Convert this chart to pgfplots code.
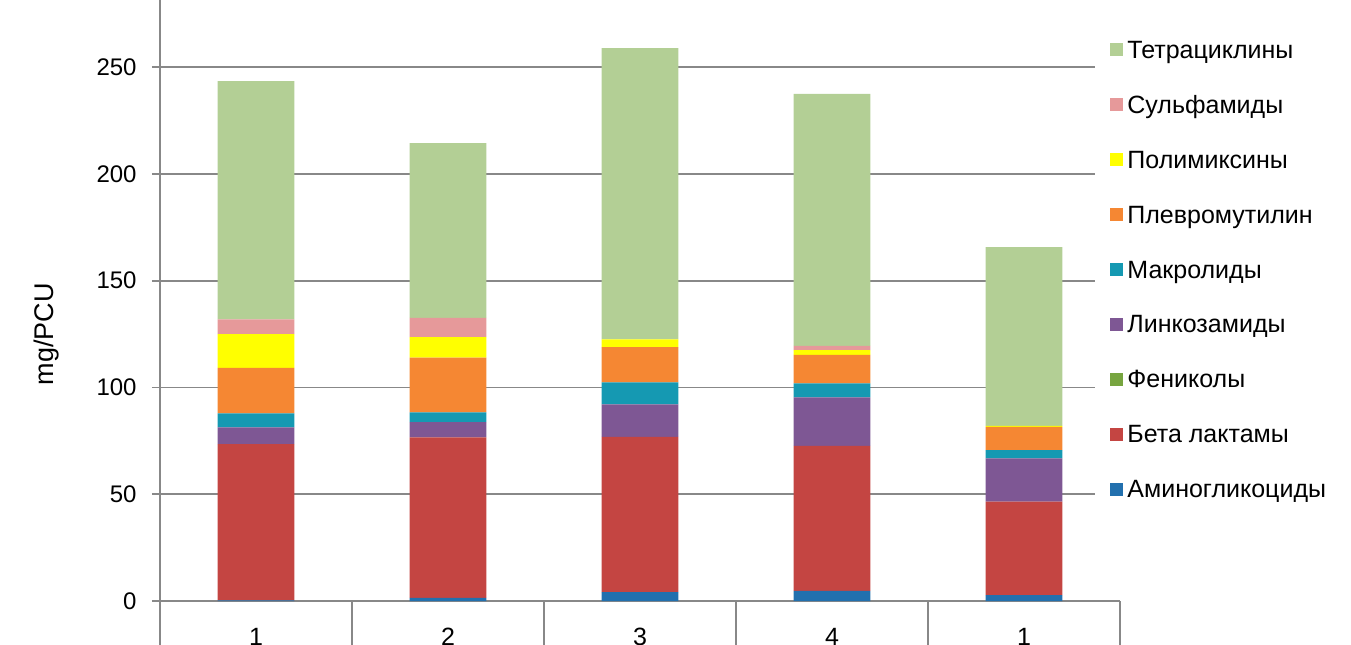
\documentclass[border=0pt]{standalone}
\usepackage{fontspec}
\setmainfont{Liberation Sans}
\usepackage{pgfplots}
\pgfplotsset{compat=1.18}
\definecolor{axgray}{HTML}{888888}
\definecolor{cAmino}{HTML}{2270AE}
\definecolor{cBeta}{HTML}{C44542}
\definecolor{cFen}{HTML}{77A540}
\definecolor{cLin}{HTML}{7E5794}
\definecolor{cMac}{HTML}{1599B2}
\definecolor{cPle}{HTML}{F58733}
\definecolor{cPol}{HTML}{FFFF00}
\definecolor{cSul}{HTML}{E6999A}
\definecolor{cTet}{HTML}{B3CF95}
\begin{document}
\begin{tikzpicture}
\begin{axis}[
  scale only axis, width=480pt, height=300.5pt,
  xmin=0.5, xmax=5.5, ymin=0, ymax=281.4,
  clip=false,
  ybar stacked, bar width=0.4,
  axis x line*=bottom, axis y line*=left,
  axis line style={draw=axgray, line width=1pt},
  ymajorgrids, grid style={draw=axgray, line width=0.9pt},
  ytick={0,50,...,250},
  ytick align=outside, major tick length=4pt,
  ytick style={draw=axgray, line width=0.9pt},
  yticklabel style={font=\fontsize{12}{14}\selectfont, anchor=east, inner sep=0pt, xshift=-7.5pt},
  /pgf/number format/assume math mode=true,
  xtick={1,2,3,4,5}, xticklabels={1,2,3,4,1},
  xtick style={draw=none},
  xticklabel style={font=\fontsize{12.5}{15}\selectfont, anchor=north, inner sep=0pt, yshift=-13.5pt},
  ylabel={mg/PCU},
  every axis y label/.style={at={(axis description cs:-0.1177,0.444)}, rotate=90, anchor=center, font=\fontsize{13.5}{16}\selectfont},
  reverse legend,
  legend cell align=left,
  legend style={at={(0.974,0.9434)}, anchor=north west, draw=none, fill=white,
    inner xsep=7.5pt, inner ysep=3pt,
    font=\fontsize{12.5}{15}\selectfont,
    row sep=15.45pt,
    nodes={inner sep=0pt, text height=9pt, text depth=3pt},
    /tikz/every odd column/.append style={column sep=2pt}},
  legend image code/.code={\fill[#1, draw=none] (0pt,-2pt) rectangle (6.5pt,4.5pt);},
]
\addplot[fill=cAmino, draw=none] coordinates {(1,0.3) (2,1.5) (3,4.1) (4,4.7) (5,2.8)};
\addplot[fill=cBeta, draw=none] coordinates {(1,73.1) (2,75.1) (3,72.7) (4,67.9) (5,43.7)};
\addplot[fill=cFen, draw=none] coordinates {(1,0) (2,0) (3,0) (4,0) (5,0)};
\addplot[fill=cLin, draw=none] coordinates {(1,7.9) (2,7.1) (3,15.3) (4,22.8) (5,20.3)};
\addplot[fill=cMac, draw=none] coordinates {(1,6.6) (2,4.6) (3,10.3) (4,6.5) (5,3.9)};
\addplot[fill=cPle, draw=none] coordinates {(1,21.3) (2,25.6) (3,16.5) (4,13.3) (5,10.8)};
\addplot[fill=cPol, draw=none] coordinates {(1,15.7) (2,9.7) (3,3.6) (4,2.3) (5,0.5)};
\addplot[fill=cSul, draw=none] coordinates {(1,7.0) (2,9.0) (3,0) (4,2.0) (5,0)};
\addplot[fill=cTet, draw=none] coordinates {(1,111.5) (2,81.8) (3,136.4) (4,117.9) (5,83.7)};
\legend{Аминогликоциды, Бета лактамы, Фениколы, Линкозамиды, Макролиды, Плевромутилин, Полимиксины, Сульфамиды, Тетрациклины}
\pgfplotsinvokeforeach{0.5,1.5,2.5,3.5,4.5,5.5}{
  \draw[axgray, line width=1pt] (axis cs:#1,0) -- ++(0pt,-30pt);
}
\end{axis}
\pgfresetboundingbox
\path[use as bounding box] (-80pt,-21.5pt) rectangle (595.5pt,300.5pt);
\end{tikzpicture}
\end{document}
